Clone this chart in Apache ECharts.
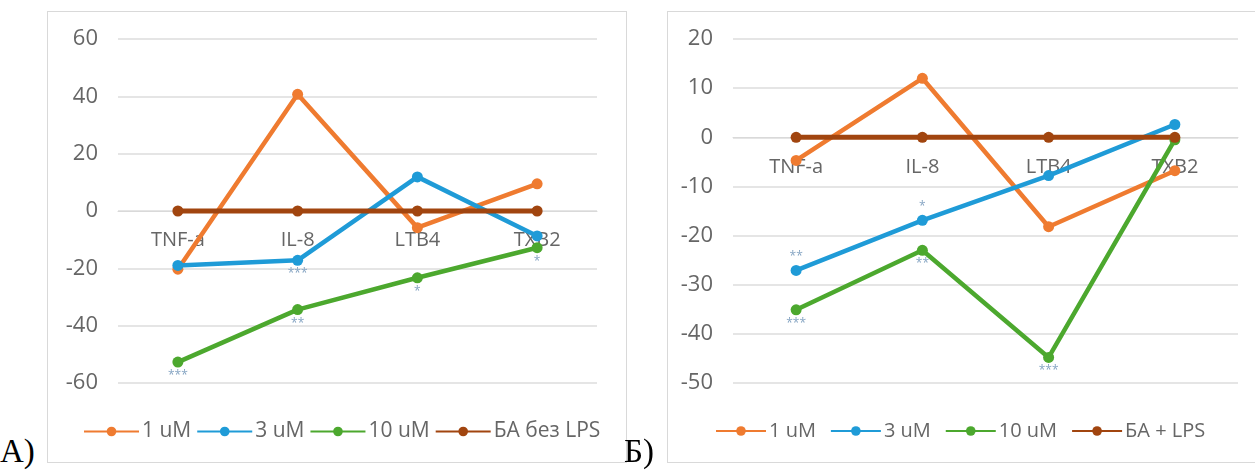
<!DOCTYPE html>
<html>
<head>
<meta charset="utf-8">
<script src="https://cdn.jsdelivr.net/npm/echarts@6/dist/echarts.min.js"></script>
<style>
  html, body { margin: 0; padding: 0; background: #fff; overflow: hidden; }
  body { width: 1255px; height: 472px; position: relative; }
  .panel { position: absolute; top: 11px; height: 452px; border: 1px solid #d9d9d9; box-sizing: border-box; }
  #chartA { left: 47px; width: 580px; }
  #chartB { left: 667px; width: 600px; }
  .tag { position: absolute; font-family: "Liberation Serif", "DejaVu Serif", serif; font-size: 33px; color: #000; line-height: 1; }
</style>
</head>
<body>
<div id="chartA" class="panel"></div>
<div id="chartB" class="panel"></div>
<div class="tag" style="left:0px;top:435px;">А)</div>
<div class="tag" style="left:624px;top:435px;">Б)</div>
<script>
const categories = ['TNF-a', 'IL-8', 'LTB4', 'TXB2'];

// panel A: без LPS
const a1uM = [-20.3, 40.7, -5.8, 9.5];
const a3uM = [-19.0, -17.2, 11.9, -8.7];
const a10uM = [-52.7, -34.4, -23.3, -12.8];
const aBase = [0, 0, 0, 0];
const aSig3 = ['', '***', '', ''];
const aSig10 = ['***', '**', '*', '*'];

// panel Б: + LPS
const b1uM = [-4.7, 12.0, -18.2, -6.8];
const b3uM = [-27.1, -16.9, -7.8, 2.6];
const b10uM = [-35.1, -23.0, -44.8, -0.5];
const bBase = [0, 0, 0, 0];
const bSig3 = ['**', '*', '', ''];
const bSig10 = ['***', '**', '***', ''];

const seriesNames = ['1 uM', '3 uM', '10 uM'];
const colors = ['#ef7b30', '#1f9bd7', '#4ca82e', '#a1450f'];
const textColor = '#666';
const font = '"Open Sans", "DejaVu Sans", sans-serif';

const withSig = (values, sig, pos) => values.map((v, i) => ({
  value: v,
  label: sig[i] ? { show: true, formatter: sig[i], position: pos } : { show: false },
}));

const lineSeries = (name, data, color, width) => ({
  name,
  type: 'line',
  data,
  symbol: 'circle',
  symbolSize: 11,
  lineStyle: { width, color },
  itemStyle: { color },
  label: { color: '#86a5c3', fontSize: 12, fontFamily: font, distance: 2 },
  emphasis: { disabled: true },
});

const buildOption = (opts) => ({
  animation: false,
  color: colors,
  textStyle: { fontFamily: font },
  grid: opts.grid,
  legend: {
    left: opts.legendLeft,
    top: 409,
    padding: 0,
    itemWidth: opts.legendIcon,
    itemHeight: 12,
    itemGap: opts.legendGap,
    textStyle: { color: textColor, fontSize: opts.legendFont, fontFamily: font, padding: [0, 0, 0, -2] },
    data: [...seriesNames, opts.baseName],
  },
  xAxis: {
    type: 'category',
    data: categories,
    position: 'bottom',
    offset: -opts.zeroOffset,
    axisLine: { onZero: false, lineStyle: { color: '#d9d9d9', width: 1 } },
    axisTick: { show: false },
    axisLabel: { color: textColor, fontSize: 20, fontFamily: font, margin: opts.labelMargin },
  },
  yAxis: {
    type: 'value',
    min: opts.min,
    max: opts.max,
    interval: opts.interval,
    axisLine: { show: false },
    axisTick: { show: false },
    axisLabel: { color: textColor, fontSize: 22, fontFamily: font, margin: 20 },
    splitLine: { lineStyle: { color: '#dcdcdc', width: 1.5 } },
  },
  series: [
    lineSeries(seriesNames[0], opts.s1, colors[0], 4.5),
    lineSeries(seriesNames[1], opts.s3, colors[1], 4.5),
    lineSeries(seriesNames[2], opts.s10, colors[2], 4.5),
    lineSeries(opts.baseName, opts.base, colors[3], 5),
  ],
});

const chartA = echarts.init(document.getElementById('chartA'), null, { renderer: 'canvas' });
chartA.setOption(buildOption({
  grid: { left: 70, top: 27, width: 479, height: 344 },
  min: -60, max: 60, interval: 20,
  zeroOffset: 172, labelMargin: 19,
  legendLeft: 35, legendGap: 5, legendIcon: 55, legendFont: 21,
  baseName: 'БА без LPS',
  s1: a1uM,
  s3: withSig(a3uM, aSig3, 'bottom'),
  s10: withSig(a10uM, aSig10, 'bottom'),
  base: aBase,
}));

const chartB = echarts.init(document.getElementById('chartB'), null, { renderer: 'canvas' });
chartB.setOption(buildOption({
  grid: { left: 65, top: 27, width: 505, height: 344 },
  min: -50, max: 20, interval: 10,
  zeroOffset: 245.7, labelMargin: 20,
  legendLeft: 47, legendGap: 14, legendIcon: 50, legendFont: 20,
  baseName: 'БА + LPS',
  s1: b1uM,
  s3: withSig(b3uM, bSig3, 'top'),
  s10: withSig(b10uM, bSig10, 'bottom'),
  base: bBase,
}));
</script>
</body>
</html>
